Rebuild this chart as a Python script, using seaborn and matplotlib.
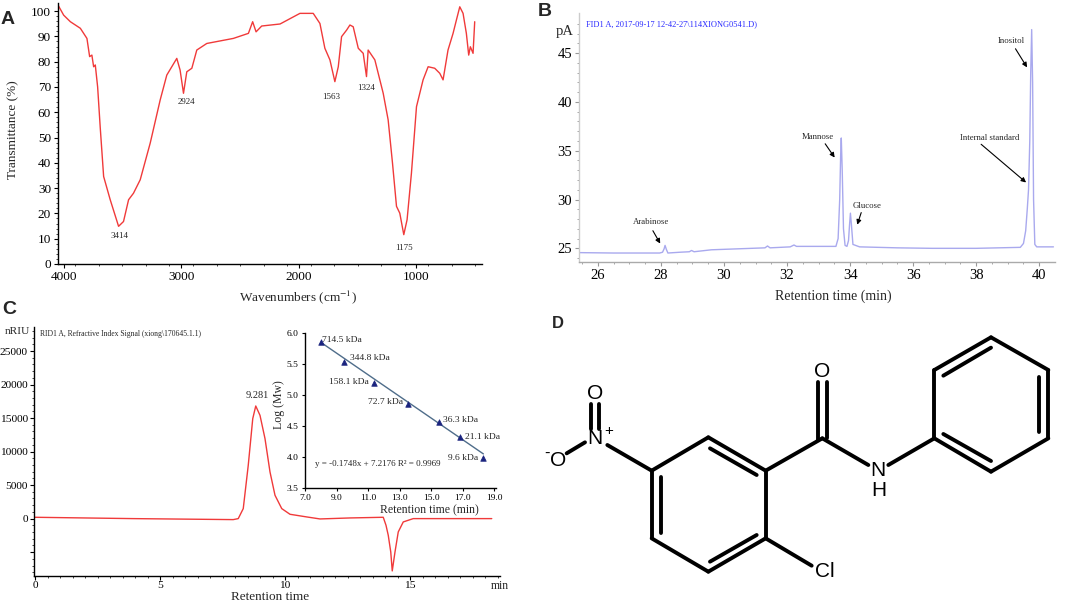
import numpy as np
import pandas as pd
import matplotlib
matplotlib.use("Agg")
import matplotlib.pyplot as plt
import seaborn as sns

# ---------------- DATA ----------------
# Panel A: FT-IR spectrum
ir_wavenumber = [4048, 4000, 3943, 3858, 3802, 3779, 3760, 3745, 3731, 3711, 3689, 3660, 3604,
                 3533, 3491, 3448, 3406, 3349, 3264, 3179, 3123, 3038, 3010, 2981, 2953, 2910,
                 2868, 2783, 2557, 2429, 2393, 2364, 2316, 2160, 1991, 1878, 1821, 1779, 1736,
                 1694, 1665, 1637, 1594, 1566, 1538, 1495, 1453, 1425, 1411, 1354, 1283, 1241,
                 1204, 1170, 1142, 1108, 1080, 1043, 1000, 944, 901, 845, 802, 774, 732, 689,
                 661, 632, 604, 576, 556, 542, 519, 505]
ir_transmittance = [102.4, 98.4, 95.8, 93.2, 89.2, 82.0, 82.6, 78.0, 78.7, 70.0, 54.0, 34.6, 25.4,
                    14.9, 16.8, 25.4, 28.0, 33.3, 47.8, 64.9, 74.7, 81.3, 76.7, 67.5, 76.0, 77.4,
                    84.6, 87.2, 89.2, 91.2, 95.8, 91.8, 94.1, 94.9, 99.1, 99.1, 95.1, 85.3, 80.7,
                    72.1, 78.0, 89.9, 92.5, 94.5, 93.8, 85.3, 83.3, 74.1, 84.6, 80.7, 67.5, 57.0,
                    39.9, 22.8, 20.1, 11.6, 17.5, 35.9, 62.2, 72.8, 78.0, 77.4, 75.4, 72.8, 84.6, 91.2,
                    96.4, 101.7, 99.1, 91.2, 82.6, 85.9, 83.3, 95.8]
ir_peak_labels = ["3414", "2924", "1563", "1324", "1175"]
ir_peak_label_x = [3525, 2953, 1722, 1430, 1105]
ir_peak_label_y = [10.9, 64.2, 66.2, 69.5, 6.3]

# Panel B: GC chromatogram
gc_time = [25.40, 26.5, 27.5, 27.96, 28.05, 28.10, 28.13, 28.17, 28.22, 28.6, 28.90, 28.97, 29.05,
           29.6, 31.30, 31.38, 31.46, 32.10, 32.22, 32.30, 33.0, 33.55, 33.62, 33.67, 33.70, 33.72,
           33.75, 33.79, 33.84, 33.90, 33.95, 33.98, 34.01, 34.04, 34.09, 34.3, 35.5, 36.6, 38.0,
           39.40, 39.50, 39.57, 39.62, 39.66, 39.70, 39.73, 39.76, 39.79, 39.82, 39.86, 39.92, 40.45]
gc_signal = [24.56, 24.52, 24.52, 24.52, 24.6, 24.95, 25.3, 24.9, 24.52, 24.6, 24.65, 24.78, 24.65,
             24.85, 25.05, 25.24, 25.05, 25.15, 25.34, 25.2, 25.2, 25.2, 26.0, 30.0, 34.5, 36.3,
             33.0, 27.0, 25.3, 25.2, 25.8, 27.3, 28.6, 27.5, 25.4, 25.15, 25.05, 25.0, 25.0,
             25.1, 25.5, 26.8, 29.0, 31.0, 36.0, 43.0, 47.4, 42.0, 30.0, 25.4, 25.15, 25.15]
gc_names = ["Arabinose", "Mannose", "Glucose", "Internal standard", "Inositol"]
gc_text_x = [27.67, 32.97, 34.54, 38.44, 39.10]
gc_text_y = [27.73, 36.38, 29.34, 36.28, 46.20]
gc_arrow_x = [28.02, 33.56, 34.20, 39.65, 39.66]
gc_arrow_y = [25.24, 34.06, 27.15, 31.56, 43.29]
gc_tail_x = [27.70, 33.16, 34.38, 38.09, 39.20]
gc_tail_y = [27.05, 35.94, 28.93, 35.84, 45.68]

# Panel C: HPGPC chromatogram
rid_time = [0.0, 3.93, 7.93, 8.13, 8.33, 8.53, 8.71, 8.83, 9.00, 9.20, 9.40, 9.60, 9.87, 10.20,
            10.87, 11.40, 12.60, 13.93, 14.04, 14.13, 14.23, 14.29, 14.40, 14.53, 14.73, 15.13, 18.27]
rid_signal = [199, 0, -149, 0, 1491, 7952, 14910, 16800, 15400, 11930, 6958, 3479, 1491, 646,
              249, -50, 99, 199, -994, -2485, -4970, -7803, -4970, -1988, -497, 0, 0]

# Panel C inset: calibration curve
cal_time = [8.0, 9.5, 11.4, 13.5, 15.5, 16.8, 18.3]
cal_logmw = [5.85, 5.54, 5.20, 4.86, 4.56, 4.32, 3.98]
cal_labels = ["714.5 kDa", "344.8 kDa", "158.1 kDa", "72.7 kDa", "36.3 kDa", "21.1 kDa", "9.6 kDa"]
cal_label_x = [8.09, 9.84, 11.03, 13.24, 15.77, 17.15, 17.99]
cal_label_y = [5.89, 5.595, 5.21, 4.88, 4.59, 4.33, 3.98]
cal_label_ha = ["left", "left", "right", "right", "left", "left", "right"]
fit_x = [8.0, 18.3]
fit_y = [5.85, 4.05]

# Panel D: molecule (bond end points, in 3x-zoom pixel units of the panel)
bonds = [
    ((365, 497), (535, 397)), ((535, 397), (707, 497)), ((707, 497), (707, 700)),
    ((707, 700), (535, 800)), ((535, 800), (365, 700)), ((365, 700), (365, 497)),
    ((540, 430), (680, 510)), ((392, 515), (392, 685)), ((680, 690), (540, 770)),
    ((707, 497), (877, 400)), ((864, 232), (864, 405)), ((890, 232), (890, 400)),
    ((877, 400), (1015, 480)), ((1075, 480), (1213, 400)),
    ((1213, 400), (1213, 195)), ((1213, 195), (1383, 97)), ((1383, 97), (1555, 195)),
    ((1555, 195), (1555, 400)), ((1555, 400), (1383, 500)), ((1383, 500), (1213, 400)),
    ((1240, 212), (1383, 128)), ((1527, 215), (1527, 380)), ((1240, 387), (1383, 468)),
    ((707, 700), (845, 782)), ((365, 497), (232, 420)),
    ((182, 298), (182, 372)), ((208, 298), (208, 372)), ((165, 412), (110, 445)),
]
atoms = ["O", "N", "H", "Cl", "N", "+", "O", "O", "-"]
atom_x = [877, 1045, 1045, 885, 195, 235, 195, 83, 50]
atom_y = [200, 495, 555, 800, 400, 378, 265, 465, 446]
atom_size = [15, 15, 15, 15, 15, 11, 15, 15, 12]

# ---------------- FIGURE ----------------
sns.set_theme(style="ticks")
plt.rcParams["font.family"] = ["Liberation Serif", "DejaVu Serif"]
plt.rcParams["mathtext.fontset"] = "stix"

W, H = 1065, 602
fig = plt.figure(figsize=(W / 100, H / 100), dpi=100)


def add_ax(l, t, r, b):
    return fig.add_axes([l / W, 1 - b / H, (r - l) / W, (b - t) / H])


def ptext(x, y, s, **kw):
    return fig.text(x / W, 1 - y / H, s, **kw)


def style(ax, size):
    for s in ["top", "right"]:
        ax.spines[s].set_visible(False)
    for s in ["left", "bottom"]:
        ax.spines[s].set_linewidth(1.0)
        ax.spines[s].set_color("black")
    ax.tick_params(which="major", length=3, width=0.8, labelsize=size, colors="black", pad=2)
    ax.tick_params(which="minor", length=1.5, width=0.6)
    ax.set_facecolor("white")


# ---- Panel A ----
axA = add_ax(58, 3, 482, 264)
dfA = pd.DataFrame({"wn": ir_wavenumber, "T": ir_transmittance})
sns.lineplot(data=dfA, x="wn", y="T", sort=False, estimator=None, color="#f03a3a", lw=1.0, ax=axA)
axA.set_xlim(4048, 443)
axA.set_ylim(0, 103.2)
axA.set_xticks([4000, 3000, 2000, 1000])
axA.set_xticks(np.arange(500, 4001, 200), minor=True)
axA.set_yticks(np.arange(0, 101, 10))
axA.set_yticks(np.arange(0, 101, 2), minor=True)
style(axA, 9.5)
axA.set_xlabel("")
axA.set_ylabel("")
ptext(298, 297, r"Wavenumbers (cm$^{-1}$)", fontsize=9.5, ha="center", va="center")
ptext(13, 130, "Transmittance (%)", fontsize=9.5, ha="center", va="center", rotation=90)
for lab, x, y in zip(ir_peak_labels, ir_peak_label_x, ir_peak_label_y):
    axA.text(x, y, lab, fontsize=6.5, ha="center", va="center")
ptext(8, 20, "A", fontsize=14, fontweight="bold", family="Liberation Sans", ha="center", va="center")

# ---- Panel B ----
axB = add_ax(579, 13, 1055, 262)
dfB = pd.DataFrame({"t": gc_time, "pA": gc_signal})
sns.lineplot(data=dfB, x="t", y="pA", sort=False, estimator=None, color="#a9a9ee", lw=1.0, ax=axB)
axB.set_xlim(25.4, 40.5)
axB.set_ylim(23.6, 49.1)
axB.set_xticks(np.arange(26, 41, 2))
axB.set_xticks(np.arange(25.5, 40.5, 0.5), minor=True)
axB.set_yticks([25, 30, 35, 40, 45])
axB.set_yticks(np.arange(24, 49, 1), minor=True)
style(axB, 10.5)
axB.spines["left"].set_color("#cccccc")
axB.spines["bottom"].set_color("#aaaaaa")
axB.tick_params(which="both", color="#999999")
axB.set_xlabel("")
axB.set_ylabel("")
ptext(833, 296, "Retention time (min)", fontsize=10, ha="center", va="center")
ptext(565, 32, "pA", fontsize=10.5, ha="center", va="center")
ptext(586, 24, "FID1 A, 2017-09-17 12-42-27\\114XIONG0541.D)", fontsize=6.0, color="#2a2aff",
      ha="left", va="center")
for name, tx, ty, ax_, ay_, hx, hy in zip(gc_names, gc_text_x, gc_text_y, gc_arrow_x, gc_arrow_y,
                                          gc_tail_x, gc_tail_y):
    axB.text(tx, ty, name, fontsize=6.3, ha="center", va="center")
    axB.annotate("", xy=(ax_, ay_), xytext=(hx, hy),
                 arrowprops=dict(arrowstyle="-|>", color="black", lw=0.8, mutation_scale=7))
ptext(545, 12, "B", fontsize=14, fontweight="bold", family="Liberation Sans", ha="center", va="center")

# ---- Panel C ----
axC = add_ax(34, 327, 500, 576)
dfC = pd.DataFrame({"t": rid_time, "s": rid_signal})
sns.lineplot(data=dfC, x="t", y="s", sort=False, estimator=None, color="#f03a3a", lw=1.0, ax=axC)
axC.set_xlim(-0.04, 18.6)
axC.set_ylim(-8560, 28580)
axC.set_xticks([0, 5, 10, 15])
axC.set_xticks(np.arange(0, 18.6, 0.5), minor=True)
axC.set_yticks([-5000, 0, 5000, 10000, 15000, 20000, 25000])
axC.set_yticklabels(["", "0", "5000", "10000", "15000", "20000", "25000"])
axC.set_yticks(np.arange(-8000, 28001, 1000), minor=True)
style(axC, 8.2)
axC.tick_params(axis="y", pad=1.5)
axC.tick_params(axis="x", pad=0.5)
axC.set_xlabel("")
axC.set_ylabel("")
ptext(270, 596.5, "Retention time", fontsize=9.5, ha="center", va="center")
ptext(500, 586, "min", fontsize=8.5, ha="center", va="center")
ptext(17, 331, "nRIU", fontsize=8.2, ha="center", va="center")
ptext(40, 334, "RID1 A, Refractive Index Signal (xiong\\170645.1.1)", fontsize=5.5,
      ha="left", va="center")
axC.text(8.87, 18290, "9.281", fontsize=7.5, ha="center", va="center")
ptext(9, 309, "C", fontsize=14, fontweight="bold", family="Liberation Sans", ha="center", va="center")

# ---- Inset ----
axI = add_ax(305, 333, 496, 488)
axI.patch.set_alpha(0)
sns.lineplot(x=fit_x, y=fit_y, color="#4f6d8a", lw=1.0, ax=axI)
sns.scatterplot(x=cal_time, y=cal_logmw, marker="^", color="#1a237e", s=16, edgecolor="#1a237e",
                linewidth=0.5, ax=axI, zorder=3)
axI.set_xlim(7.0, 19.1)
axI.set_ylim(3.5, 6.0)
axI.set_xticks(np.arange(7, 19.1, 2))
axI.set_xticklabels([f"{v:.1f}" for v in np.arange(7, 19.1, 2)])
axI.set_yticks(np.arange(3.5, 6.01, 0.5))
axI.set_yticklabels([f"{v:.1f}" for v in np.arange(3.5, 6.01, 0.5)])
style(axI, 6.8)
axI.tick_params(which="major", length=2.5)
axI.set_xlabel("")
axI.set_ylabel("")
ptext(429, 510, "Retention time (min)", fontsize=8.5, ha="center", va="center")
ptext(279, 405, "Log (Mw)", fontsize=8.5, ha="center", va="center", rotation=90)
for lab, x, y, ha in zip(cal_labels, cal_label_x, cal_label_y, cal_label_ha):
    axI.text(x, y, lab, fontsize=6.8, ha=ha, va="center")
axI.text(7.62, 3.89, "y = -0.1748x + 7.2176 R² = 0.9969", fontsize=6.5, ha="left", va="center")

# ---- Panel D ----
axD = add_ax(530, 305, 1065, 602)
axD.set_xlim(530, 1065)
axD.set_ylim(602, 305)
axD.axis("off")
for (x0, y0), (x1, y1) in bonds:
    sns.lineplot(x=[530 + x0 / 3, 530 + x1 / 3], y=[305 + y0 / 3, 305 + y1 / 3], color="black",
                 lw=2.8, ax=axD, sort=False, estimator=None, solid_capstyle="round")
for a, x, y, sz in zip(atoms, atom_x, atom_y, atom_size):
    axD.text(530 + x / 3, 305 + y / 3, a, fontsize=sz, family="Liberation Sans", ha="center",
             va="center", color="black")
ptext(558, 324, "D", fontsize=12, fontweight="bold", family="Liberation Sans", ha="center", va="center")

fig.savefig("out.png", dpi=100, facecolor="white")
